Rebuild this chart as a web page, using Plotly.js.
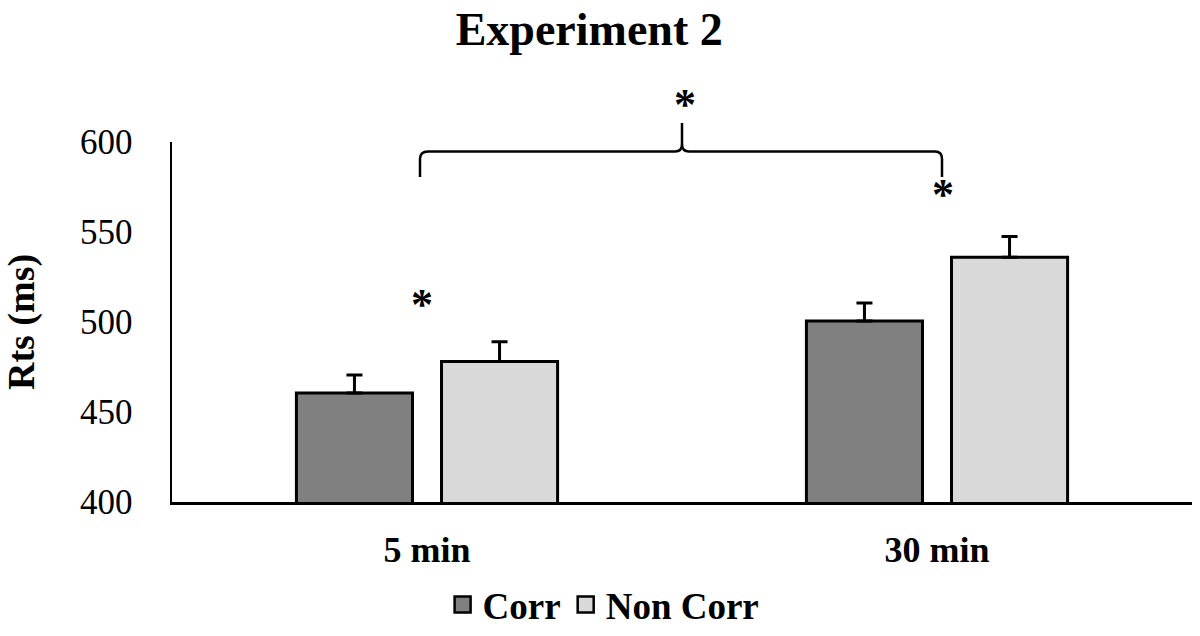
<!DOCTYPE html>
<html>
<head>
<meta charset="utf-8">
<script src="https://cdn.plot.ly/plotly-3.0.1.min.js"></script>
<style>html,body{margin:0;padding:0;background:#fff;}#chart{width:1200px;height:636px;}</style>
</head>
<body>
<div id="chart"></div>
<script>
// ---- data ----
const categories = ["5 min", "30 min"];
const seriesNames = ["Corr", "Non Corr"];
const corrMeans = [460.5, 500.5];
const corrErrors = [10, 10];
const nonCorrMeans = [478, 536];
const nonCorrErrors = [11, 11.5];
const yTickValues = [400, 450, 500, 550, 600];
const yTickLabels = ["400", "450", "500", "550", "600"];
// significance markers: [category position, y value]
const starPositions = [[-0.01, 510], [1.012, 571]];

const FONT = "Liberation Serif, Times New Roman, serif";

function barTrace(name, y, err, color) {
  return {
    type: "bar",
    name: name,
    x: categories,
    y: y,
    marker: { color: color, line: { color: "#000", width: 3 } },
    error_y: {
      type: "data", symmetric: false, array: err,
      arrayminus: err.map(() => 0),
      color: "#000", thickness: 3, width: 8
    },
    showlegend: false,
    hoverinfo: "x+y"
  };
}

function legendTrace(name, color) {
  return {
    type: "scatter", mode: "markers", name: name,
    x: [null], y: [null],
    marker: { symbol: "square", size: 18, color: color, line: { color: "#000", width: 2.5 } },
    showlegend: true
  };
}

const data = [
  barTrace(seriesNames[0], corrMeans, corrErrors, "#808080"),
  barTrace(seriesNames[1], nonCorrMeans, nonCorrErrors, "#d9d9d9"),
  legendTrace(seriesNames[0], "#808080"),
  legendTrace(seriesNames[1], "#d9d9d9")
];

// paper-coordinate helpers for the bracket (plot area: x 172..1192, y 142..502)
const px = v => (v - 172) / 1020;
const py = v => (502 - v) / 360;
const bracePath =
  "M" + px(420) + "," + py(177) +
  " L" + px(420) + "," + py(159) +
  " Q" + px(420) + "," + py(151.5) + " " + px(428) + "," + py(151.5) +
  " L" + px(675) + "," + py(151.5) +
  " Q" + px(682) + "," + py(151.5) + " " + px(682) + "," + py(144) +
  " L" + px(682) + "," + py(123) +
  " L" + px(682) + "," + py(144) +
  " Q" + px(682) + "," + py(151.5) + " " + px(689) + "," + py(151.5) +
  " L" + px(935) + "," + py(151.5) +
  " Q" + px(942) + "," + py(151.5) + " " + px(942) + "," + py(159) +
  " L" + px(942) + "," + py(177);

const annotations = starPositions.map(p => ({
  x: p[0], y: p[1], xref: "x", yref: "y", text: "<b>*</b>", showarrow: false,
  font: { family: FONT, size: 44, color: "#000" }, yanchor: "middle"
}));
annotations.push({
  x: px(685), y: py(105), xref: "paper", yref: "paper", text: "<b>*</b>", showarrow: false,
  font: { family: FONT, size: 44, color: "#000" }, yanchor: "middle"
});

const layout = {
  width: 1200, height: 636,
  margin: { l: 172, r: 8, t: 142, b: 134 },
  paper_bgcolor: "#fff", plot_bgcolor: "#fff",
  font: { family: FONT, color: "#000" },
  title: {
    text: "<b>Experiment 2</b>",
    font: { family: FONT, size: 46, color: "#000" },
    x: 0.491, xref: "container", xanchor: "center",
    y: 0.955, yref: "container", yanchor: "middle"
  },
  barmode: "group",
  bargap: 0.431,
  bargroupgap: 0.2,
  xaxis: {
    type: "category", automargin: false,
    showline: true, linecolor: "#000", linewidth: 2.5,
    ticks: "", showgrid: false, zeroline: false,
    tickfont: { family: FONT, size: 36, color: "#000", weight: "bold" },
    ticklabelstandoff: 14
  },
  yaxis: {
    range: [400, 600], automargin: false,
    tickvals: yTickValues, ticktext: yTickLabels,
    showline: true, linecolor: "#000", linewidth: 2.5,
    ticks: "", showgrid: false, zeroline: false,
    tickfont: { family: FONT, size: 35, color: "#000" },
    ticklabelstandoff: 30,
    title: { text: "<b>Rts (ms)</b>", font: { family: FONT, size: 38, color: "#000" }, standoff: 35 }
  },
  legend: {
    orientation: "h", x: 0.503, xref: "container", xanchor: "center",
    y: -0.011, yref: "container", yanchor: "bottom",
    font: { family: FONT, size: 37, color: "#000", weight: "bold" },
    itemwidth: 30, tracegroupgap: 0
  },
  shapes: [{
    type: "path", xref: "paper", yref: "paper", path: bracePath,
    line: { color: "#000", width: 2.5 }, fillcolor: "rgba(0,0,0,0)"
  }],
  annotations: annotations
};

Plotly.newPlot("chart", data, layout, { displayModeBar: false, staticPlot: true });
</script>
</body>
</html>
